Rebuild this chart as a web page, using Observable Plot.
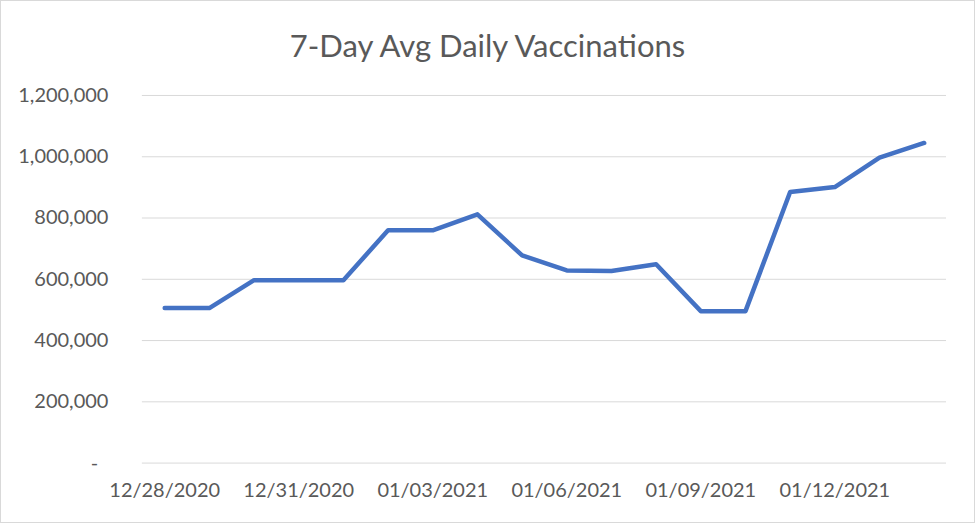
<!DOCTYPE html>
<html><head><meta charset="utf-8">
<script src="https://cdn.jsdelivr.net/npm/d3@7"></script>
<script src="https://cdn.jsdelivr.net/npm/@observablehq/plot@0.6"></script>
<style>
body{margin:0;background:#fff;}
#wrap{position:relative;width:975px;height:523px;box-sizing:border-box;border:1px solid #d9d9d9;overflow:hidden;font-family:Lato,sans-serif;background:#fff;}
#title{position:absolute;left:0;right:0;top:24px;text-align:center;font-size:31px;color:#595959;line-height:40px;white-space:nowrap;}
#chart{position:absolute;left:-1px;top:79px;}
</style></head><body>
<div id="wrap"><div id="title">7-Day Avg Daily Vaccinations</div><div id="chart"></div></div>
<script>
const dates = ["12/28/2020","12/29/2020","12/30/2020","12/31/2020","01/01/2021","01/02/2021","01/03/2021","01/04/2021","01/05/2021","01/06/2021","01/07/2021","01/08/2021","01/09/2021","01/10/2021","01/11/2021","01/12/2021","01/13/2021","01/14/2021"];
const values = [506000,506000,597000,597000,597000,760000,760000,812000,678000,629000,627000,649000,496000,496000,885000,901000,997000,1045000];
const tickLabels = ["12/28/2020","12/31/2020","01/03/2021","01/06/2021","01/09/2021","01/12/2021"];
const yTicks = [0,200000,400000,600000,800000,1000000,1200000];
const data = dates.map((d,i)=>({date:d,value:values[i]}));
const fmt = d3.format(",");
const chart = Plot.plot({
  width:975, height:443, marginLeft:142, marginRight:28, marginTop:15, marginBottom:60,
  style:{fontFamily:"Lato, sans-serif", fontSize:"20px", color:"#595959", background:"transparent"},
  x:{type:"point", domain:dates, padding:0.5, round:false, label:null},
  y:{domain:[0,1200000], label:null},
  marks:[
    Plot.gridY(yTicks,{stroke:"#d9d9d9", strokeOpacity:1, strokeWidth:1}),
    Plot.axisY(yTicks,{tickSize:0, tickPadding:34, tickFormat: d => d===0 ? "-\u00a0\u00a0" : fmt(d), fill:"#595959", label:null}),
    Plot.axisX(tickLabels,{tickSize:0, tickPadding:20, fill:"#595959", label:null}),
    Plot.line(data,{x:"date", y:"value", stroke:"#4472C4", strokeWidth:4.5, strokeLinejoin:"round", strokeLinecap:"round"})
  ]
});
document.getElementById("chart").appendChild(chart);
</script>
</body></html>
